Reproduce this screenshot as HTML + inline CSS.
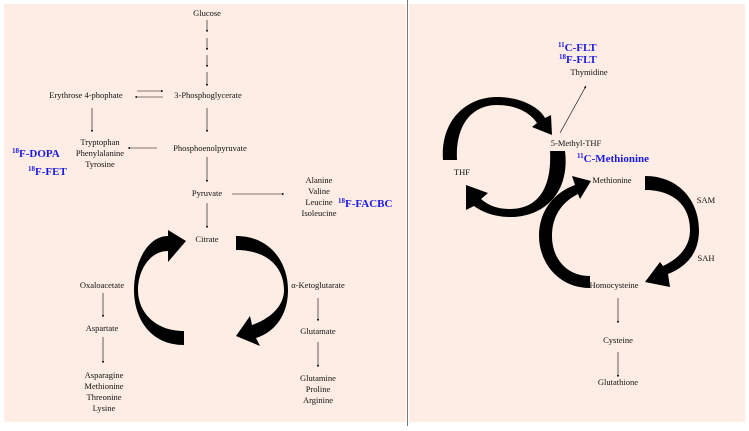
<!DOCTYPE html>
<html><head><meta charset="utf-8"><style>
body{margin:0;background:#fff;width:749px;height:426px;overflow:hidden}
svg text{font-family:"Liberation Serif",serif;font-size:8.5px;fill:#111}
svg text.b{fill:#1a1ae6;font-weight:bold;font-size:11px}
svg text.b tspan.s{font-size:7px}
</style></head><body>
<svg width="749" height="426" viewBox="0 0 749 426" xmlns="http://www.w3.org/2000/svg">
<defs><marker id="a" viewBox="0 0 10 10" refX="9" refY="5" markerWidth="4" markerHeight="4" orient="auto"><path d="M0,0L10,5L0,10z" fill="#000"/></marker></defs>
<rect x="4" y="4" width="402" height="418" fill="#fdede4"/>
<rect x="409" y="4" width="336" height="418" fill="#fdede4"/>
<line x1="407.5" y1="0" x2="407.5" y2="426" stroke="#777" stroke-width="1"/>
<g stroke="#000" stroke-width="0.6" marker-end="url(#a)" fill="none">
<line x1="207" y1="20" x2="207" y2="32"/><line x1="207" y1="38" x2="207" y2="50"/>
<line x1="207" y1="55" x2="207" y2="67"/><line x1="207" y1="72" x2="207" y2="86"/>
<line x1="137" y1="91" x2="163" y2="91"/><line x1="163" y1="97" x2="135" y2="97"/>
<line x1="207" y1="108" x2="207" y2="132"/><line x1="207" y1="157" x2="207" y2="182"/>
<line x1="207" y1="203" x2="207" y2="228"/><line x1="92" y1="108" x2="92" y2="132"/>
<line x1="157" y1="148" x2="128" y2="148"/><line x1="232" y1="194" x2="284" y2="194"/>
<line x1="103" y1="293" x2="103" y2="317"/><line x1="103" y1="337" x2="103" y2="363"/>
<line x1="318" y1="298" x2="318" y2="321"/><line x1="318" y1="342" x2="318" y2="367"/>
<line x1="560" y1="133" x2="586" y2="86"/><line x1="618" y1="298" x2="618" y2="323"/>
<line x1="618" y1="352" x2="618" y2="377"/>
</g>
<g fill="#000">
<path d="M184,345 C150,345 134,318 134,290 C134,262 148,236 168,236 L168,230 L186,241 L168,262 L168,251 C150,251 138,270 138,290 C138,312 155,331 184,331 Z"/>
<path d="M236,236 C270,236 288,262 288,290 C288,315 275,332 256,338 L260,346 L236,336 L250,316 L252,325 C272,318 284,305 284,290 C284,268 268,250 236,250 Z"/>
<path d="M443,160 C440,122 465,97 497,97 C522,97 540,108 545,118 L551,115 L552,135 L532,127 L537,123 C528,110 512,105 497,105 C472,105 455,125 457,160 Z"/>
<path d="M565,151 C570,192 545,217 510,217 C495,217 482,212 474,206 L466,210 L466,185 L488,193 L481,199 C489,206 498,209 510,209 C538,209 552,188 550,151 Z"/>
<path d="M590,288 C558,288 539,262 539,236 C539,210 555,192 575,185 L572,176 L591,181 L580,199 L578,194 C562,202 552,216 552,236 C552,258 566,276 590,276 Z"/>
<path d="M645,176 C680,176 699,202 699,230 C699,252 688,266 668,274 L670,287 L645,282 L660,262 L663,266 C680,258 690,246 690,230 C690,206 674,190 645,190 Z"/>
</g>
<g text-anchor="middle">
<text x="207" y="16">Glucose</text>
<text x="208" y="98">3-Phosphoglycerate</text>
<text x="86" y="98">Erythrose 4-phophate</text>
<text x="210" y="151">Phosphoenolpyruvate</text>
<text x="207" y="196">Pyruvate</text>
<text x="207" y="242">Citrate</text>
<text x="100" y="145">Tryptophan</text><text x="100" y="156">Phenylalanine</text><text x="100" y="167">Tyrosine</text>
<text x="319" y="183">Alanine</text><text x="319" y="194">Valine</text><text x="319" y="205">Leucine</text><text x="319" y="216">Isoleucine</text>
<text x="102" y="288">Oxaloacetate</text><text x="102" y="331">Aspartate</text>
<text x="104" y="378">Asparagine</text><text x="104" y="389">Methionine</text><text x="104" y="400">Threonine</text><text x="104" y="411">Lysine</text>
<text x="318" y="288">α-Ketoglutarate</text><text x="318" y="334">Glutamate</text>
<text x="318" y="381">Glutamine</text><text x="318" y="392">Proline</text><text x="318" y="403">Arginine</text>
<text x="589" y="75">Thymidine</text><text x="576" y="146">5-Methyl-THF</text><text x="462" y="175">THF</text>
<text x="612" y="183">Methionine</text><text x="706" y="203">SAM</text><text x="706" y="261">SAH</text>
<text x="614" y="288">Homocysteine</text><text x="618" y="343">Cysteine</text><text x="618" y="385">Glutathione</text>
</g>
<text class="b" x="12" y="157"><tspan class="s" dy="-4">18</tspan><tspan dy="4">F-DOPA</tspan></text>
<text class="b" x="28" y="175"><tspan class="s" dy="-4">18</tspan><tspan dy="4">F-FET</tspan></text>
<text class="b" x="338" y="207"><tspan class="s" dy="-4">18</tspan><tspan dy="4">F-FACBC</tspan></text>
<text class="b" x="558" y="51"><tspan class="s" dy="-4">11</tspan><tspan dy="4">C-FLT</tspan></text>
<text class="b" x="559" y="63"><tspan class="s" dy="-4">18</tspan><tspan dy="4">F-FLT</tspan></text>
<text class="b" x="577" y="162"><tspan class="s" dy="-4">11</tspan><tspan dy="4">C-Methionine</tspan></text>
</svg>
</body></html>
